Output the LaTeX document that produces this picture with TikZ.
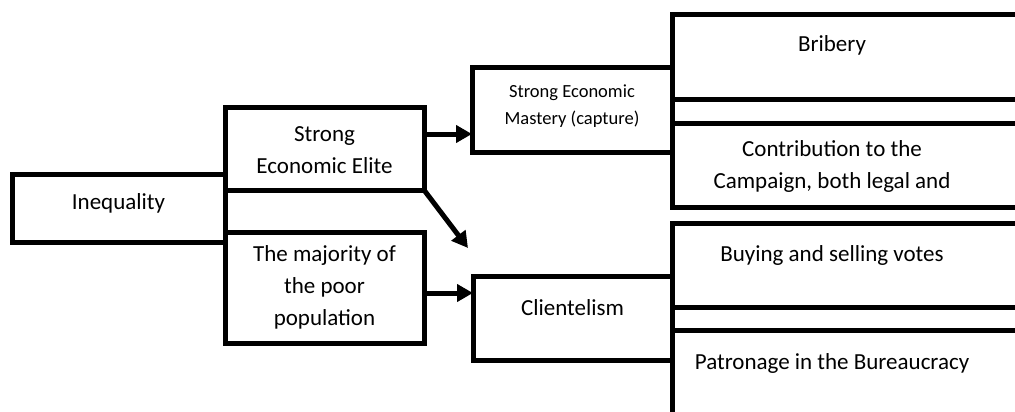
\documentclass[tikz,border=0pt]{standalone}
\usepackage{fontspec}
\setmainfont{Carlito}
\usetikzlibrary{arrows.meta}
\begin{document}
\begin{tikzpicture}[x=1pt,y=-1pt,
  box/.style={draw,line width=5pt,inner sep=0pt,outer sep=0pt},
  txt/.style={inner sep=0pt,align=center,font=\fontsize{23}{32}\selectfont},
  smalltxt/.style={inner sep=0pt,align=center,font=\fontsize{18.5}{27}\selectfont},
  arr/.style={line width=5pt,-{Triangle[length=16pt,width=17pt]}}]
\useasboundingbox (0,0) rectangle (1015,412);
\clip (0,0) rectangle (1015,412);
% left column
\node[box,minimum width=213pt,minimum height=68pt] (ineq) at (118.5,208) {};
\node[txt] (ineqt) at (118.5,203) {Inequality};
\node[box,minimum width=199pt,minimum height=83pt] (elite) at (324.5,148.5) {};
\node[txt] (elitet) at (324.5,150) {Strong\\Economic Elite};
\node[box,minimum width=199pt,minimum height=111pt] (poor) at (324.5,287.5) {};
\node[txt] (poort) at (324.5,287) {The majority of\\the poor\\population};
% middle column
\node[box,minimum width=200pt,minimum height=84pt] (mastery) at (572,110) {};
\node[smalltxt] (masteryt) at (572,106.5) {Strong Economic\\Mastery (capture)};
\node[box,minimum width=199pt,minimum height=84pt] (client) at (572.5,318) {};
\node[txt] (clientt) at (572.5,308) {Clientelism};
% right column (open to the right)
\node[box,minimum width=400pt,minimum height=84pt,anchor=north west] (bribery) at (672,15) {};
\node[txt] (briberyt) at (832,45) {Bribery};
\node[box,minimum width=400pt,minimum height=84pt,anchor=north west] (contrib) at (672,123) {};
\node[txt] (contribt) at (832,166) {Contribution to the\\Campaign, both legal and};
\node[box,minimum width=400pt,minimum height=84pt,anchor=north west] (buying) at (672,223) {};
\node[txt] (buyingt) at (832,255) {Buying and selling votes};
\node[box,minimum width=400pt,minimum height=120pt,anchor=north west] (patron) at (672,330) {};
\node[txt] (patront) at (832,363) {Patronage in the Bureaucracy};
% arrows
\coordinate (dtip) at (468,248);
\draw[arr] ([yshift=14.5pt]elite.east) -- ([yshift=14.5pt]elite.east -| mastery.west);
\draw[arr] ([yshift=-5.5pt]poor.east) -- ([yshift=-5.5pt]poor.east -| client.west);
\draw[arr] (elite.south east) -- (dtip);
\end{tikzpicture}
\end{document}
